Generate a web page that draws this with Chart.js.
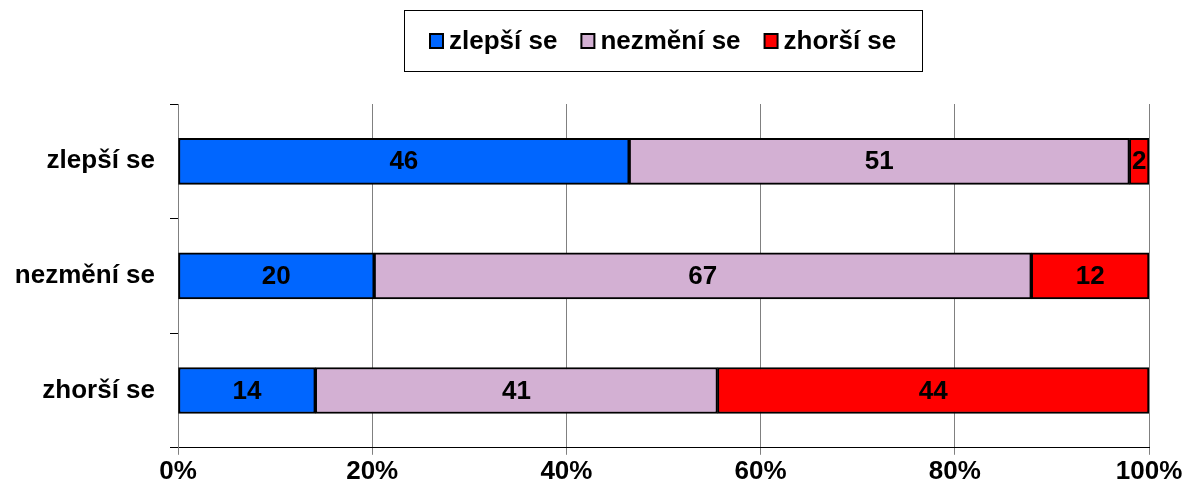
<!DOCTYPE html>
<html lang="cs">
<head>
    <meta charset="UTF-8">
    <title>Chart</title>
    <script src="https://cdn.jsdelivr.net/npm/chart.js"></script>
    <style>
        html, body { margin: 0; padding: 0; background: #fff; }
        #wrap { width: 1184px; height: 492px; }
    </style>
</head>
<body>
<div id="wrap">
    <canvas id="myChart" width="1184" height="492"></canvas>
</div>
<script>
    // data
    const categories = ['zlepší se', 'nezmění se', 'zhorší se'];
    const seriesNames = ['zlepší se', 'nezmění se', 'zhorší se'];
    const better = [46, 20, 14];
    const same = [51, 67, 41];
    const worse = [2, 12, 44];
    const xTicks = [0, 20, 40, 60, 80, 100];

    const colors = ['#0066ff', '#d3b0d3', '#ff0000'];
    const FONT = '"Liberation Sans", Arial, sans-serif';

    // 100% stacked: scale each row to its total
    const totals = categories.map((c, i) => better[i] + same[i] + worse[i]);
    const pct = arr => arr.map((v, i) => v / totals[i] * 100);

    const raw = [better, same, worse];

    // legend in a frame, centred over the plot area
    const boxLegend = {
        id: 'boxLegend',
        afterDraw(chart) {
            const ctx = chart.ctx;
            const area = chart.chartArea;
            const box = 13, gap = 6, itemGap = 24, pad = 26;
            ctx.save();
            ctx.font = 'bold 26px ' + FONT;
            const widths = seriesNames.map(n => ctx.measureText(n).width);
            const total = widths.reduce((a, b) => a + b, 0) + seriesNames.length * (box + gap) + (seriesNames.length - 1) * itemGap;
            const cx = (area.left + area.right) / 2;
            let x = Math.round(cx - total / 2);
            const cy = 41;

            ctx.strokeStyle = '#000';
            ctx.lineWidth = 1;
            ctx.strokeRect(x - pad + 0.5, 10.5, Math.round(total + pad * 2), 61);

            ctx.textAlign = 'left';
            ctx.textBaseline = 'middle';
            seriesNames.forEach((n, i) => {
                ctx.fillStyle = colors[i];
                ctx.fillRect(x, cy - 7, box, 14);
                ctx.lineWidth = 2;
                ctx.strokeStyle = '#000';
                ctx.strokeRect(x, cy - 7, box, 14);
                ctx.fillStyle = '#000';
                ctx.fillText(n, x + box + gap, cy + 1);
                x += box + gap + widths[i] + itemGap;
            });
            ctx.restore();
        }
    };

    // value labels in the middle of each segment
    const valueLabels = {
        id: 'valueLabels',
        afterDatasetsDraw(chart) {
            const ctx = chart.ctx;
            ctx.save();
            ctx.font = 'bold 26px ' + FONT;
            ctx.fillStyle = '#000';
            ctx.textAlign = 'center';
            ctx.textBaseline = 'middle';
            chart.data.datasets.forEach((ds, di) => {
                chart.getDatasetMeta(di).data.forEach((bar, i) => {
                    const cx = (bar.x + bar.base) / 2;
                    ctx.fillText(String(raw[di][i]), cx, bar.y + 1);
                });
            });
            ctx.restore();
        }
    };

    const data = {
        labels: categories,
        datasets: [
            { label: seriesNames[0], data: pct(better), backgroundColor: colors[0] },
            { label: seriesNames[1], data: pct(same), backgroundColor: colors[1] },
            { label: seriesNames[2], data: pct(worse), backgroundColor: colors[2] }
        ].map(d => Object.assign(d, {
            borderColor: '#000',
            borderWidth: 2,
            borderSkipped: false,
            barThickness: 46
        }))
    };

    const config = {
        type: 'bar',
        data: data,
        plugins: [boxLegend, valueLabels],
        options: {
            indexAxis: 'y',
            responsive: false,
            animation: false,
            layout: { padding: { top: 104, right: 35, bottom: 4, left: 0 } },
            plugins: {
                tooltip: { enabled: false },
                legend: { display: false }
            },
            scales: {
                x: {
                    stacked: true,
                    min: 0,
                    max: 100,
                    afterBuildTicks(scale) {
                        scale.ticks = xTicks.map(v => ({ value: v }));
                    },
                    ticks: {
                        color: '#000',
                        padding: 1,
                        font: { family: FONT, size: 26, weight: 'bold' },
                        callback: v => v + '%'
                    },
                    grid: { color: '#808080', lineWidth: 1, tickLength: 7 },
                    border: { color: '#000', width: 1 }
                },
                y: {
                    stacked: true,
                    afterFit(scale) { scale.width = 178; },
                    ticks: {
                        color: '#000',
                        padding: 15,
                        font: { family: FONT, size: 26, weight: 'bold' }
                    },
                    grid: { drawOnChartArea: false, color: '#000', tickLength: 8 },
                    border: { color: '#808080', width: 1 }
                }
            }
        }
    };

    const myChart = new Chart(document.getElementById('myChart'), config);
</script>
</body>
</html>
